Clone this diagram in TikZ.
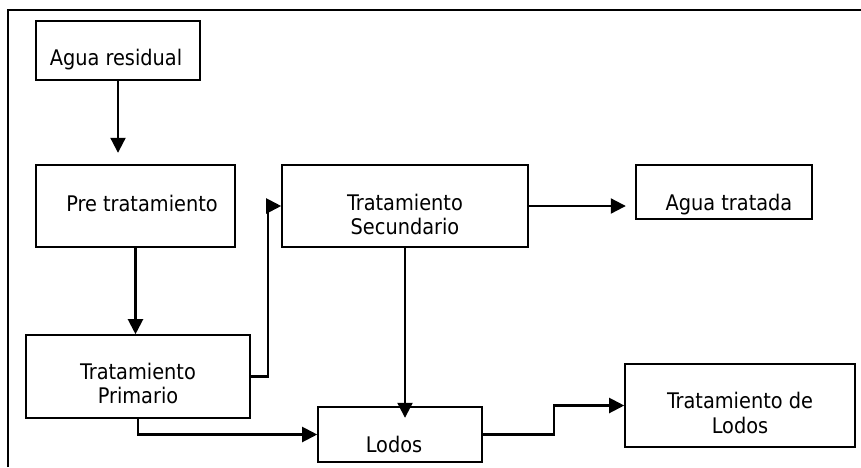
\documentclass[tikz,border=0pt]{standalone}
\usepackage{fontspec}
\setmainfont{DejaVu Sans Condensed}
\usetikzlibrary{arrows.meta}

\begin{document}
\begin{tikzpicture}[
  x = 1pt,
  y = -1pt,
  box/.style = {
    draw = black,
    line width = 1.6pt,
    inner sep = 0pt
  },
  txt/.style = {
    inner sep = 0pt,
    align = center,
    font = \fontsize{21.5}{24.5}\selectfont
  },
  arr/.style = {
    -{Triangle[length = 15pt, width = 15pt]},
    line width = 2.1pt
  }
]
  \useasboundingbox (0, 0) rectangle (861, 467);
  \draw[line width = 1.5pt] (8, 467) -- (8, 10) -- (861, 10);

  \node[box, minimum width = 164pt, minimum height = 59pt] (agua) at (118, 50.5) {};
  \node[box, minimum width = 199pt, minimum height = 82pt] (pre) at (135.5, 206) {};
  \node[box, minimum width = 224pt, minimum height = 83pt] (prim) at (138, 376.5) {};
  \node[box, minimum width = 246pt, minimum height = 82pt] (sec) at (405, 206) {};
  \node[box, minimum width = 176pt, minimum height = 54pt] (tratada) at (724, 192) {};
  \node[box, minimum width = 164pt, minimum height = 55pt] (lodos) at (400, 434.5) {};
  \node[box, minimum width = 230pt, minimum height = 83pt] (tlodos) at (740, 405.5) {};

  \node[txt, anchor = base] (aguaT) at (116, 65) {Agua residual};
  \node[txt, anchor = base] (preT) at (142, 211) {Pre tratamiento};
  \node[txt] (primT) at (138, 383.5) {Tratamiento\\Primario};
  \node[txt] (secT) at (405, 214.5) {Tratamiento\\Secundario};
  \node[txt, anchor = base] (tratadaT) at (729, 210) {Agua tratada};
  \node[txt, anchor = base] (lodosT) at (394, 452) {Lodos};
  \node[txt] (tlodosT) at (740, 413) {Tratamiento de\\Lodos};

  \draw[arr] (agua.south) -- ++(0, 72);
  \draw[arr] (pre.south) -- (pre.south |- prim.north);
  \draw[arr] (prim.east) -- ++(17, 0) |- (sec.west);
  \draw[arr] (sec.east) -- ++(97, 0);
  \draw[arr] (sec.south) -- ++(0, 170);
  \draw[arr] (prim.south) |- (lodos.west);
  \draw[arr] (lodos.east) -- ++(71, 0) |- (tlodos.west);
\end{tikzpicture}
\end{document}
